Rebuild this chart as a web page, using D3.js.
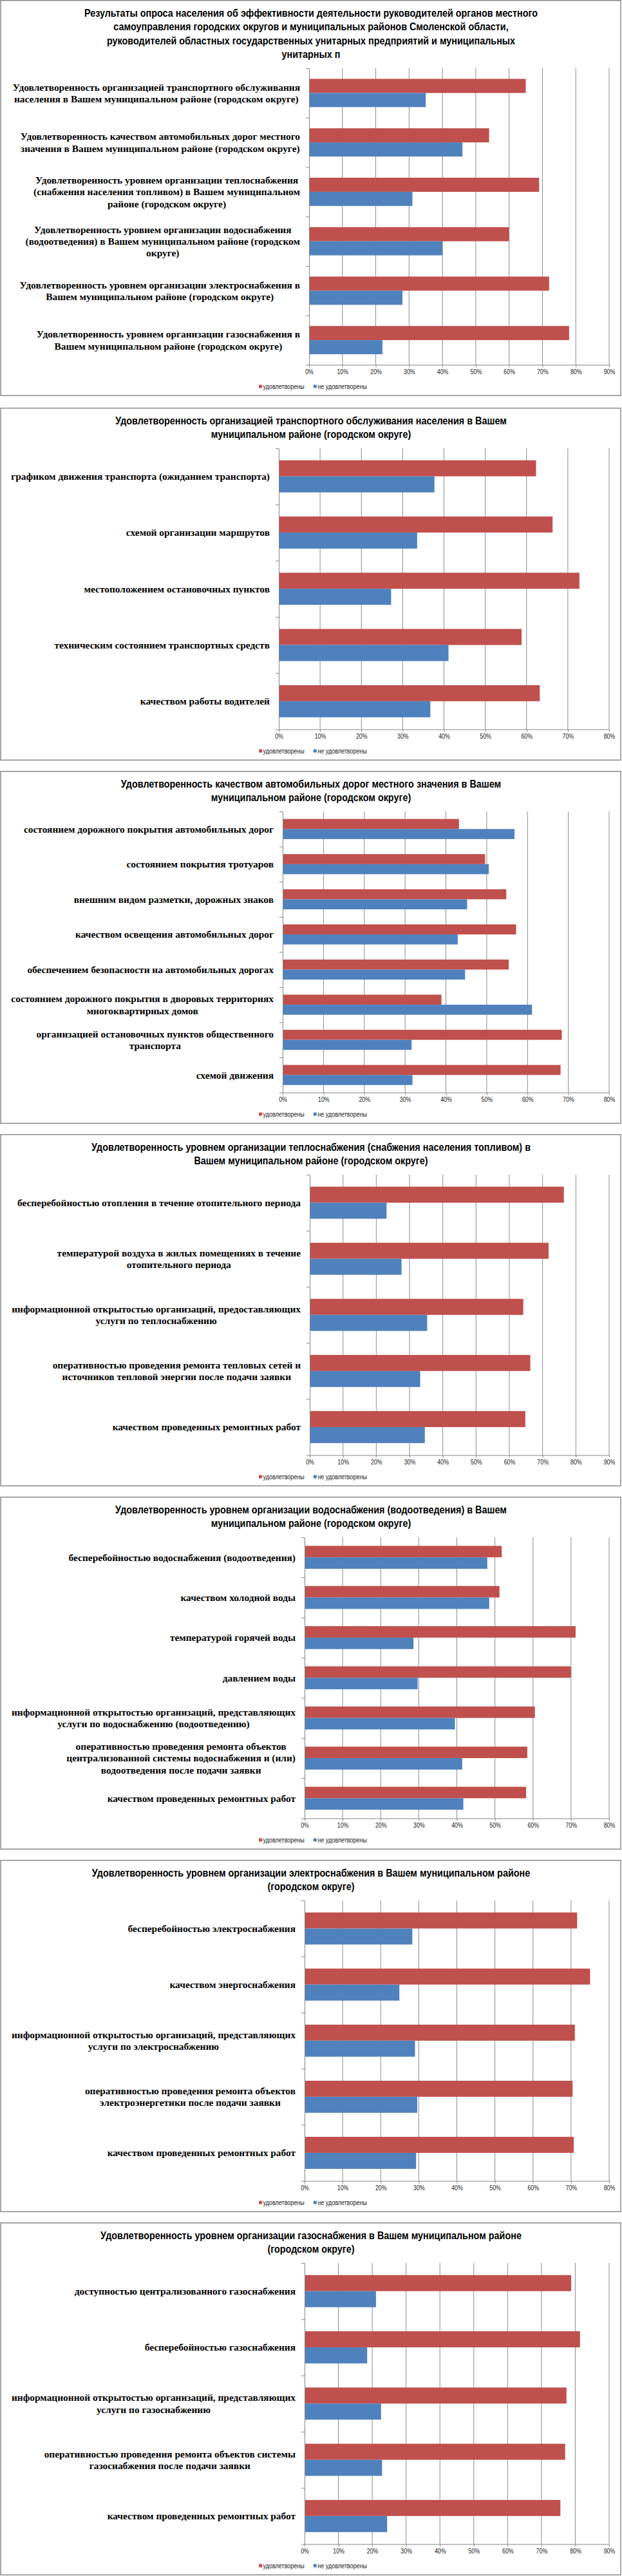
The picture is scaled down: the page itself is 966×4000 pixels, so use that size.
<!DOCTYPE html>
<html>
<head>
    <meta charset="utf-8">
    <script src="https://cdn.jsdelivr.net/npm/d3@7"></script>
    <title></title>
    <style>
        * {
            margin: 0;
            padding: 0;
        }

        body {
            background: #fff;
        }

        #charts {
            display: block;
        }

        .title {
            font-family: "Liberation Sans", sans-serif;
            font-weight: bold;
            font-size: 17px;
            fill: #000;
        }

        .cat {
            font-family: "Liberation Serif", serif;
            font-weight: bold;
            font-size: 15.4px;
            fill: #000;
        }

        .tick text {
            font-family: "Liberation Sans", sans-serif;
            font-size: 11px;
            fill: #222;
        }

        .legend text {
            font-family: "Liberation Sans", sans-serif;
            font-size: 10px;
            fill: #222;
        }
    </style>
</head>
<body>

    <svg id="charts" width="966" height="4000"></svg>

    <script>
        // ---- data ----
        var seriesNames = ["удовлетворены", "не удовлетворены"];

        var titles = [
            "Результаты опроса населения об эффективности деятельности руководителей органов местного\nсамоуправления городских округов и муниципальных районов Смоленской области,\nруководителей областных государственных унитарных предприятий и муниципальных\nунитарных п",
            "Удовлетворенность организацией транспортного обслуживания населения в Вашем\nмуниципальном районе (городском округе)",
            "Удовлетворенность качеством автомобильных дорог местного значения в Вашем\nмуниципальном районе (городском округе)",
            "Удовлетворенность уровнем организации теплоснабжения (снабжения населения топливом) в\nВашем муниципальном районе (городском округе)",
            "Удовлетворенность уровнем организации водоснабжения (водоотведения) в Вашем\nмуниципальном районе (городском округе)",
            "Удовлетворенность уровнем организации электроснабжения в Вашем муниципальном районе\n(городском округе)",
            "Удовлетворенность уровнем организации газоснабжения в Вашем муниципальном районе\n(городском округе)"
        ];

        var axisMax = [90, 80, 80, 90, 80, 80, 90];

        var cats1 = [
            "Удовлетворенность организацией  транспортного обслуживания\nнаселения в Вашем муниципальном  районе (городском округе)",
            "Удовлетворенность качеством автомобильных дорог местного\nзначения в Вашем муниципальном районе (городском округе)",
            "Удовлетворенность уровнем организации теплоснабжения\n(снабжения населения топливом) в Вашем муниципальном\nрайоне (городском округе)",
            "Удовлетворенность уровнем организации водоснабжения\n(водоотведения) в Вашем муниципальном районе (городском\nокруге)",
            "Удовлетворенность уровнем организации электроснабжения в\nВашем муниципальном районе (городском округе)",
            "Удовлетворенность уровнем организации газоснабжения в\nВашем муниципальном районе (городском округе)"
        ];
        var sat1 = [65, 54, 69, 60, 72, 78];
        var unsat1 = [35, 46, 31, 40, 28, 22];

        var cats2 = [
            "графиком движения транспорта (ожиданием транспорта)",
            "схемой организации  маршрутов",
            "местоположением остановочных пунктов",
            "техническим состоянием транспортных средств",
            "качеством работы водителей"
        ];
        var sat2 = [62.3, 66.3, 72.8, 58.8, 63.2];
        var unsat2 = [37.7, 33.5, 27.2, 41.1, 36.7];

        var cats3 = [
            "состоянием дорожного покрытия автомобильных дорог",
            "состоянием покрытия тротуаров",
            "внешним видом разметки, дорожных знаков",
            "качеством освещения автомобильных дорог",
            "обеспечением безопасности на автомобильных дорогах",
            "состоянием дорожного покрытия в дворовых территориях\nмногоквартирных домов",
            "организацией остановочных пунктов общественного\nтранспорта",
            "схемой движения"
        ];
        var sat3 = [43.2, 49.6, 54.8, 57.2, 55.4, 38.9, 68.4, 68.1];
        var unsat3 = [56.8, 50.5, 45.2, 42.9, 44.7, 61.1, 31.6, 31.8];

        var cats4 = [
            "бесперебойностью отопления в течение отопительного периода",
            "температурой воздуха в жилых помещениях в течение\nотопительного периода",
            "информационной открытостью организаций, предоставляющих\nуслуги по теплоснабжению",
            "оперативностью проведения ремонта тепловых сетей и\nисточников тепловой энергии после подачи заявки",
            "качеством проведенных ремонтных работ"
        ];
        var sat4 = [76.4, 71.8, 64.2, 66.3, 64.8];
        var unsat4 = [23.1, 27.6, 35.3, 33.2, 34.6];

        var cats5 = [
            "бесперебойностью водоснабжения (водоотведения)",
            "качеством холодной воды",
            "температурой горячей воды",
            "давлением воды",
            "информационной открытостью организаций, представляющих\nуслуги по водоснабжению (водоотведению)",
            "оперативностью проведения ремонта объектов\nцентрализованной  системы водоснабжения и (или)\nводоотведения после подачи заявки",
            "качеством проведенных ремонтных работ"
        ];
        var sat5 = [51.8, 51.2, 71.2, 70.0, 60.5, 58.5, 58.2];
        var unsat5 = [48.0, 48.5, 28.6, 29.7, 39.5, 41.4, 41.7];

        var cats6 = [
            "бесперебойностью электроснабжения",
            "качеством энергоснабжения",
            "информационной открытостью организаций, представляющих\nуслуги по электроснабжению",
            "оперативностью проведения ремонта объектов\nэлектроэнергетики после подачи заявки",
            "качеством проведенных ремонтных работ"
        ];
        var sat6 = [71.6, 75.0, 71.0, 70.4, 70.7];
        var unsat6 = [28.3, 24.9, 29.0, 29.6, 29.3];

        var cats7 = [
            "доступностью централизованного газоснабжения",
            "бесперебойностью газоснабжения",
            "информационной открытостью организаций, представляющих\nуслуги по газоснабжению",
            "оперативностью проведения ремонта объектов системы\nгазоснабжения  после подачи заявки",
            "качеством проведенных ремонтных работ"
        ];
        var sat7 = [78.8, 81.4, 77.4, 77.0, 75.6];
        var unsat7 = [21.1, 18.5, 22.6, 22.9, 24.4];

        // ---- layout ----
        var colors = ["#C0504D", "#4F81BD"];
        var panelTop = [0, 633, 1197, 1761, 2324, 2888, 3451];
        var panelHeight = [615, 548, 548, 547, 548, 547, 548];
        var plotLeft = [480, 433, 439, 481, 473, 473, 473];
        var plotRight = 946;
        // the original fonts are condensed, squeeze the sans text a bit
        var squeeze = 0.846;

        var panels = [
            { cats: cats1, sat: sat1, unsat: unsat1 },
            { cats: cats2, sat: sat2, unsat: unsat2 },
            { cats: cats3, sat: sat3, unsat: unsat3 },
            { cats: cats4, sat: sat4, unsat: unsat4 },
            { cats: cats5, sat: sat5, unsat: unsat5 },
            { cats: cats6, sat: sat6, unsat: unsat6 },
            { cats: cats7, sat: sat7, unsat: unsat7 }
        ];

        var svg = d3.select("#charts");

        panels.forEach(function (p, i) {
            p.title = titles[i];
            p.max = axisMax[i];
            p.top = panelTop[i];
            p.height = panelHeight[i];
            p.left = plotLeft[i];
            drawPanel(p);
        });

        function drawPanel(p) {
            var g = svg.append("g")
                .attr("transform", "translate(0," + p.top + ")");

            // frame
            g.append("rect")
                .attr("x", 1)
                .attr("y", 0.75)
                .attr("width", 963)
                .attr("height", p.height - 1.5)
                .attr("fill", "#fff")
                .attr("stroke", "#8a8a8a")
                .attr("stroke-width", 1.5);

            // title
            var lines = p.title.split("\n");
            g.append("text")
                .attr("class", "title")
                .attr("text-anchor", "middle")
                .attr("transform", "translate(483,0) scale(" + squeeze + ",1)")
                .selectAll("tspan")
                .data(lines)
                .enter()
                .append("tspan")
                .attr("x", 0)
                .attr("y", function (d, i) { return 20 + i * 21.5; })
                .attr("dy", "0.35em")
                .text(function (d) { return d; });

            var plotTop = 20 + lines.length * 21.5;
            var plotBottom = p.height - 48.5;

            var x = d3.scaleLinear()
                .domain([0, p.max / 100])
                .range([p.left, plotRight]);

            var y = d3.scaleBand()
                .domain(p.cats)
                .range([plotTop, plotBottom])
                .paddingInner(0.4286)
                .paddingOuter(0.2143);

            var ySub = d3.scaleBand()
                .domain(seriesNames)
                .range([0, y.bandwidth()]);

            var ticks = d3.range(0, p.max + 1, 10).map(function (v) { return v / 100; });

            // gridlines
            g.append("g")
                .selectAll("line")
                .data(ticks.slice(1))
                .enter()
                .append("line")
                .attr("x1", function (d) { return x(d); })
                .attr("x2", function (d) { return x(d); })
                .attr("y1", plotTop)
                .attr("y2", plotBottom)
                .attr("stroke", "#8c8c8c")
                .attr("stroke-width", 1);

            // bars
            var rows = p.cats.map(function (c, i) {
                return { cat: c, values: [p.sat[i], p.unsat[i]] };
            });

            g.append("g")
                .selectAll("g")
                .data(rows)
                .enter()
                .append("g")
                .attr("transform", function (d) { return "translate(0," + y(d.cat) + ")"; })
                .selectAll("rect")
                .data(function (d) { return d.values; })
                .enter()
                .append("rect")
                .attr("x", x(0))
                .attr("y", function (d, i) { return ySub(seriesNames[i]); })
                .attr("width", function (d) { return x(d / 100) - x(0); })
                .attr("height", ySub.bandwidth())
                .attr("fill", function (d, i) { return colors[i]; });

            // category axis, ticks on the borders between categories
            var yEdge = d3.scaleLinear()
                .domain([0, p.cats.length])
                .range([plotTop, plotBottom]);
            var yAxis = g.append("g")
                .attr("transform", "translate(" + x(0) + ",0)")
                .call(d3.axisLeft(yEdge)
                    .tickValues(d3.range(p.cats.length + 1))
                    .tickFormat("")
                    .tickSize(5)
                    .tickSizeOuter(0));
            yAxis.selectAll("path, line").attr("stroke", "#868686");

            // value axis
            var xAxis = g.append("g")
                .attr("transform", "translate(0," + plotBottom + ")")
                .call(d3.axisBottom(x)
                    .tickValues(ticks)
                    .tickFormat(d3.format(".0%"))
                    .tickSize(4)
                    .tickSizeOuter(0)
                    .tickPadding(3));
            xAxis.selectAll("path, line").attr("stroke", "#868686");
            xAxis.selectAll("text").attr("transform", "scale(0.8,1)");

            // category labels
            var labelRight = p.left - 14;
            rows.forEach(function (r) {
                var parts = r.cat.split("\n");
                var cy = y(r.cat) + y.bandwidth() / 2;
                var lh = 18.3;
                var t = g.append("text")
                    .attr("class", "cat")
                    .attr("text-anchor", "middle");
                var spans = t.selectAll("tspan")
                    .data(parts)
                    .enter()
                    .append("tspan")
                    .attr("y", function (d, i) { return cy + (i - (parts.length - 1) / 2) * lh; })
                    .attr("dy", "0.35em")
                    .text(function (d) { return d; });
                var w = 0;
                spans.each(function () { w = Math.max(w, this.getComputedTextLength()); });
                spans.attr("x", labelRight - w / 2);
            });

            // legend
            var legend = g.append("g")
                .attr("class", "legend")
                .attr("transform", "translate(0," + (plotBottom + 33.5) + ")");
            var items = legend.selectAll("g")
                .data(seriesNames)
                .enter()
                .append("g");
            items.append("rect")
                .attr("x", 0)
                .attr("y", -2.5)
                .attr("width", 5)
                .attr("height", 5)
                .attr("fill", function (d, i) { return colors[i]; });
            items.append("text")
                .attr("transform", "translate(6.5,0) scale(0.9,1)")
                .attr("dy", "0.35em")
                .text(function (d) { return d; });
            var widths = [];
            items.each(function () {
                var tw = d3.select(this).select("text").node().getComputedTextLength() * 0.9;
                widths.push(6.5 + tw);
            });
            var gap = 14;
            var total = d3.sum(widths) + gap * (widths.length - 1);
            var cx = 486 - total / 2;
            items.attr("transform", function (d, i) {
                var off = cx + d3.sum(widths.slice(0, i)) + gap * i;
                return "translate(" + off + ",0)";
            });
        }
    </script>
</body>
</html>
